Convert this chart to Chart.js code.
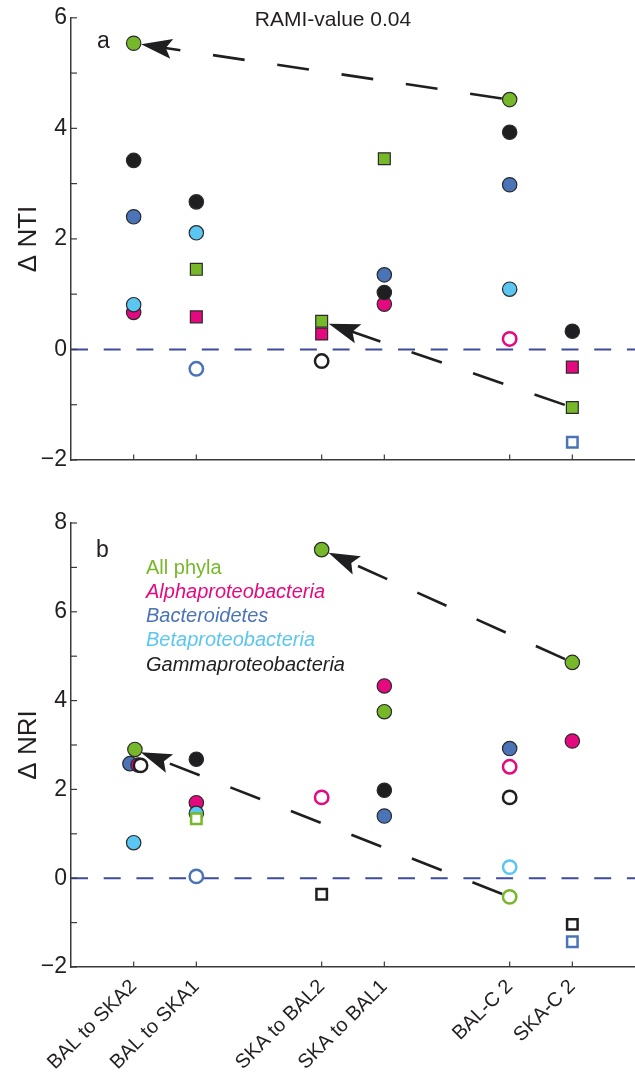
<!DOCTYPE html>
<html>
<head>
<meta charset="utf-8">
<script src="https://cdn.jsdelivr.net/npm/chart.js@4.4.1/dist/chart.umd.min.js"></script>
<style>
  html, body { margin: 0; padding: 0; background: #fff; }
  #wrap { position: relative; width: 635px; height: 1077px; overflow: hidden; }
  .box { position: absolute; left: 0; width: 635px; }
  #boxA { top: 0; height: 480px; }
  #boxB { top: 480px; height: 597px; }
</style>
</head>
<body>
<div id="wrap">
  <div class="box" id="boxA"><canvas id="chartA"></canvas></div>
  <div class="box" id="boxB"><canvas id="chartB"></canvas></div>
</div>
<script>
// categories and where they sit on the x axis
var categories = ["BAL to SKA2", "BAL to SKA1", "SKA to BAL2", "SKA to BAL1", "BAL-C 2", "SKA-C 2"];
var catPos = [1, 2, 4, 5, 7, 8];

// legend order
var taxa = ["All phyla", "Alphaproteobacteria", "Bacteroidetes", "Betaproteobacteria", "Gammaproteobacteria"];
var taxaColors = ["#77b82b", "#e5097f", "#4a73b8", "#5bc6f1", "#1f1e21"];
// which taxon is drawn on top (first = top-most)
var drawOrder = [0, 4, 3, 1, 2];

// marker kinds: c filled circle, s filled square, o open circle, q open square, - none

// panel a, delta NTI
var ntiAll   = [5.54, 1.45, 0.51, 3.45, 4.52, -1.05];
var ntiAlpha = [0.67, 0.59, 0.28, 0.82, 0.19, -0.32];
var ntiBact  = [2.40, -0.35, null, 1.35, 2.98, -1.68];
var ntiBeta  = [0.81, 2.11, null, null, 1.09, null];
var ntiGamma = [3.42, 2.67, -0.21, 1.03, 3.93, 0.33];
var ntiKinds = ["cssscs", "csscos", "co-ccq", "cc--c-", "ccoccc"];
var ntiTicks = [-2, 0, 2, 4, 6];

// panel b, delta NRI
var nriAll   = [2.90, 1.34, 7.40, 3.75, -0.42, 4.86];
var nriAlpha = [2.55, 1.70, 1.82, 4.33, 2.51, 3.09];
var nriBact  = [2.58, 0.04, null, 1.40, 2.92, -1.43];
var nriBeta  = [0.80, 1.46, null, null, 0.25, null];
var nriGamma = [2.54, 2.68, -0.36, 1.98, 1.82, -1.04];
var nriKinds = ["cqccoc", "ccococ", "co-ccq", "cc--o-", "ocqcoq"];
// small sideways shifts of overlapping points (first category only)
var nriJitter = [[0.02, 0, 0, 0, 0, 0], [0.07, 0, 0, 0, 0, 0], [-0.06, 0, 0, 0, 0, 0], [0, 0, 0, 0, 0, 0], [0.11, 0, 0, 0, 0, 0]];
var nriTicks = [-2, 0, 2, 4, 6, 8];

// arrows along "All phyla": [from category, to category]
var ntiArrows = [[4, 0], [5, 2]];
var nriArrows = [[5, 2], [4, 0]];

var FONT = "'Liberation Sans', Arial, Helvetica, sans-serif";
var INK = "#231f20";
var AXIS = "#3a3a3a";

function fmt(v) {
  return v < 0 ? "\u2212" + (-v) : "" + v;
}

function makeDatasets(series, kinds, jitter, arrows) {
  var sets = [];
  drawOrder.forEach(function (t) {
    var pts = [];
    series[t].forEach(function (v, i) {
      if (v === null) return;
      pts.push({ x: catPos[i] + (jitter ? jitter[t][i] : 0), y: v, k: kinds[t][i] });
    });
    var col = taxaColors[t];
    sets.push({
      label: taxa[t],
      data: pts,
      pointStyle: function (c) { var k = c.raw && c.raw.k; return (k === "s" || k === "q") ? "rect" : "circle"; },
      pointRadius: function (c) { var k = c.raw && c.raw.k; return { c: 7.2, s: 8.4, o: 6.7, q: 7.4 }[k] || 7; },
      pointBackgroundColor: function (c) { var k = c.raw && c.raw.k; return (k === "o" || k === "q") ? "#ffffff" : col; },
      pointBorderColor: function (c) { var k = c.raw && c.raw.k; return (k === "o" || k === "q") ? col : "#2a2a2a"; },
      pointBorderWidth: function (c) { var k = c.raw && c.raw.k; return (k === "o" || k === "q") ? 2.5 : 1.2; },
      showLine: false
    });
  });
  // dashed arrow shafts
  arrows.forEach(function (a) {
    sets.push({
      data: [{ x: catPos[a[0]], y: series[0][a[0]] }, { x: catPos[a[1]], y: series[0][a[1]] }],
      showLine: true, pointRadius: 0, borderColor: "#1f1e21", borderWidth: 2.6,
      borderDash: [32, 33], borderDashOffset: 57
    });
  });
  // zero line
  sets.push({
    data: [{ x: 0, y: 0 }, { x: 9, y: 0 }],
    showLine: true, pointRadius: 0, borderColor: "#3e4b9d", borderWidth: 2,
    borderDash: [17, 15.7]
  });
  return sets;
}

var decor = {
  id: "decor",
  afterDatasetsDraw: function (chart, args, opts) {
    var c = chart.ctx, xs = chart.scales.x, ys = chart.scales.y, a = chart.chartArea;
    c.save();
    // inward tick marks
    c.strokeStyle = AXIS;
    c.lineWidth = 1.2;
    for (var v = ys.min; v <= ys.max; v++) {
      var py = ys.getPixelForValue(v);
      c.beginPath(); c.moveTo(a.left, py); c.lineTo(a.left + 6, py); c.stroke();
    }
    catPos.forEach(function (p) {
      var px = xs.getPixelForValue(p);
      c.beginPath(); c.moveTo(px, a.bottom); c.lineTo(px, a.bottom - 5.5); c.stroke();
    });
    // arrow heads
    c.fillStyle = "#1f1e21";
    opts.arrows.forEach(function (ar) {
      var x0 = xs.getPixelForValue(catPos[ar[0]]), y0 = ys.getPixelForValue(opts.series[ar[0]]);
      var x1 = xs.getPixelForValue(catPos[ar[1]]), y1 = ys.getPixelForValue(opts.series[ar[1]]);
      var d = Math.hypot(x1 - x0, y1 - y0), ux = (x1 - x0) / d, uy = (y1 - y0) / d;
      var nx = -uy, ny = ux;
      var tx = x1 - ux * 7.5, ty = y1 - uy * 7.5;
      var L = 31, W = 10, N = 25;
      c.beginPath();
      c.moveTo(tx, ty);
      c.lineTo(tx - ux * L + nx * W, ty - uy * L + ny * W);
      c.lineTo(tx - ux * N, ty - uy * N);
      c.lineTo(tx - ux * L - nx * W, ty - uy * L - ny * W);
      c.closePath();
      c.fill();
    });
    // texts
    c.textBaseline = "middle";
    opts.texts.forEach(function (t) {
      c.font = t.font;
      c.fillStyle = t.color;
      c.textAlign = t.align || "left";
      c.fillText(t.text, a.left + t.dx, a.top + t.dy);
    });
    c.restore();
  }
};

function makeChart(id, series, kinds, jitter, arrows, yMin, yMax, yTicks, title, padTop, xHeight, showLabels, texts) {
  return new Chart(document.getElementById(id), {
    type: "scatter",
    data: { datasets: makeDatasets(series, kinds, jitter, arrows) },
    options: {
      responsive: true,
      maintainAspectRatio: false,
      animation: false,
      events: [],
      layout: { padding: { top: padTop, left: 0, right: 0, bottom: 0 }, autoPadding: false },
      plugins: {
        legend: { display: false },
        tooltip: { enabled: false },
        decor: { arrows: arrows, series: series[0], texts: texts }
      },
      scales: {
        x: {
          type: "linear", min: 0, max: 9,
          grid: { display: false, drawTicks: false, tickLength: 0 },
          border: { display: true, color: AXIS, width: 1.5 },
          afterBuildTicks: function (s) { s.ticks = catPos.map(function (v) { return { value: v }; }); },
          afterFit: function (s) { s.height = xHeight; },
          ticks: {
            display: showLabels, autoSkip: false, maxRotation: 45, minRotation: 45, padding: 8,
            color: INK, font: { family: FONT, size: 20 },
            callback: function (v) { return categories[catPos.indexOf(v)]; }
          }
        },
        y: {
          min: yMin, max: yMax,
          grid: { display: false, drawTicks: false, tickLength: 0 },
          border: { display: true, color: AXIS, width: 1.5 },
          afterBuildTicks: function (s) { s.ticks = yTicks.map(function (v) { return { value: v }; }); },
          afterFit: function (s) { s.width = 71; },
          ticks: {
            padding: 4, color: INK, font: { family: FONT, size: 23 },
            callback: function (v) { return fmt(v); }
          },
          title: {
            display: true, text: title, color: INK,
            font: { family: FONT, size: 26, lineHeight: 1.2 },
            padding: { top: 13, bottom: 0 }
          }
        }
      }
    },
    plugins: [decor]
  });
}

var textsA = [
  { text: "a", dx: 26, dy: 24, font: "23px " + FONT, color: INK },
  { text: "RAMI-value 0.04", dx: 262, dy: 2, font: "21px " + FONT, color: INK, align: "center" }
];

var textsB = [{ text: "b", dx: 25, dy: 28, font: "23px " + FONT, color: INK }];
var legendDy = [45, 69, 93, 117, 142];
taxa.forEach(function (t, i) {
  textsB.push({ text: t, dx: 75, dy: legendDy[i], font: (i === 0 ? "" : "italic ") + "20px " + FONT, color: taxaColors[i] });
});

makeChart("chartA", [ntiAll, ntiAlpha, ntiBact, ntiBeta, ntiGamma], ntiKinds, null, ntiArrows,
  -2, 6, ntiTicks, "\u0394 NTI", 16, 20, false, textsA);

makeChart("chartB", [nriAll, nriAlpha, nriBact, nriBeta, nriGamma], nriKinds, nriJitter, nriArrows,
  -2, 8, nriTicks, "\u0394 NRI", 43, 110, true, textsB);
</script>
</body>
</html>
